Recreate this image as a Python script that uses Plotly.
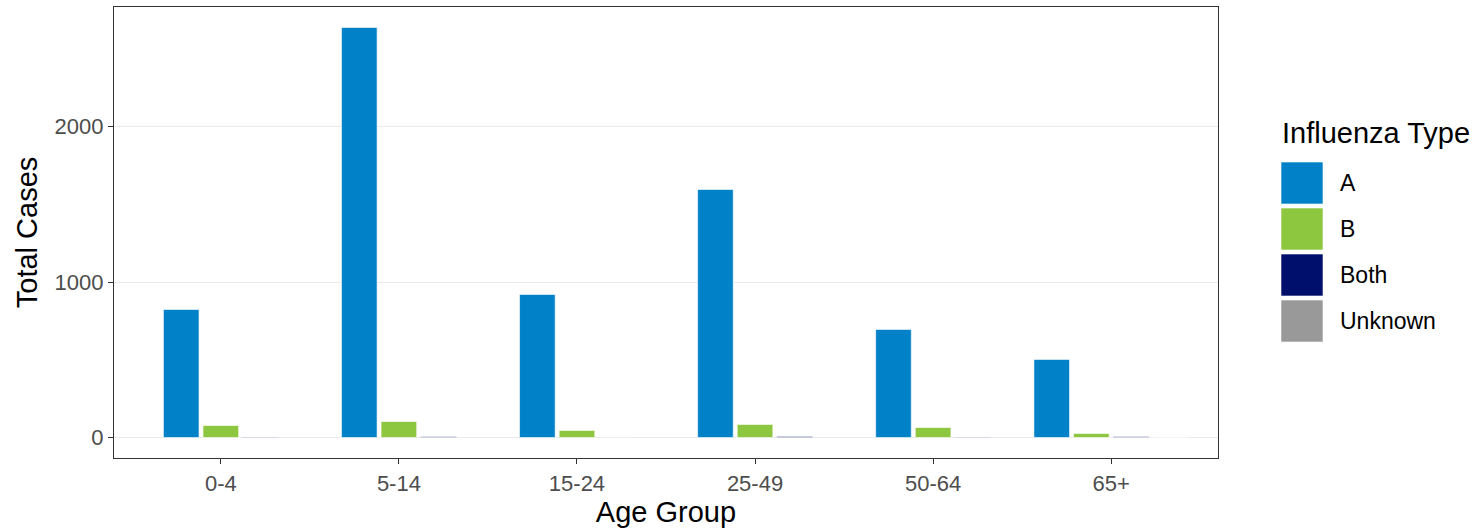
import plotly.graph_objects as go

age_groups = ["0-4", "5-14", "15-24", "25-49", "50-64", "65+"]
series_names = ["A", "B", "Both", "Unknown"]
cases_A = [823, 2637, 920, 1595, 695, 502]
cases_B = [77, 103, 45, 84, 64, 26]
cases_Both = [3, 5, 2, 6, 3, 4]
cases_Unknown = [None, None, None, None, None, 2]
y_ticks = [0, 1000, 2000]

series_values = [cases_A, cases_B, cases_Both, cases_Unknown]
colors = ["#0081C8", "#8DC63F", "#000F6B", "#999999"]

W, H = 1473, 530
L, R, T, B = 114, 255, 7, 72
pw, ph = W - L - R, H - T - B

def px(x):
    return (x - L) / pw

def py(y):
    return (H - B - y) / ph

slot, bw = 0.2225, 0.2
present = [[s for s in range(len(series_values)) if series_values[s][i] is not None]
           for i in range(len(age_groups))]

fig = go.Figure()
for s, (name, vals, col) in enumerate(zip(series_names, series_values, colors)):
    offs = []
    for i in range(len(age_groups)):
        p = present[i]
        if s in p:
            k = p.index(s)
            n = len(p)
            c = -n * slot / 2 + (k + 0.5) * slot
            offs.append(c - bw / 2)
        else:
            offs.append(0)
    fig.add_trace(go.Bar(
        x=age_groups, y=vals, name=name, width=bw, offset=offs,
        marker=dict(color=col, line=dict(color="white", width=0.6)),
        showlegend=False,
    ))

font_family = "Liberation Sans, Arial, sans-serif"
shapes = []
annotations = []
annotations.append(dict(text="Influenza Type", x=px(1280), y=py(133), xref="paper", yref="paper",
                        xanchor="left", yanchor="middle", showarrow=False,
                        font=dict(size=29, color="black", family=font_family)))
for s, (name, col) in enumerate(zip(series_names, colors)):
    top = 162 + s * 46
    shapes.append(dict(type="rect", xref="paper", yref="paper",
                       x0=px(1281), x1=px(1323), y0=py(top + 42), y1=py(top),
                       fillcolor=col, line=dict(color="white", width=0.6), layer="above"))
    annotations.append(dict(text=name, x=px(1338), y=py(top + 21), xref="paper", yref="paper",
                            xanchor="left", yanchor="middle", showarrow=False,
                            font=dict(size=23, color="black", family=font_family)))

fig.update_layout(
    width=W, height=H,
    margin=dict(l=L, r=R, t=T, b=B),
    paper_bgcolor="white", plot_bgcolor="white",
    barmode="overlay",
    font=dict(family=font_family),
    shapes=shapes, annotations=annotations,
    showlegend=False,
)
fig.update_xaxes(
    type="category", range=[-0.6, 5.6],
    showgrid=False, showline=True, mirror=True, linecolor="#333333", linewidth=1.3,
    ticks="outside", ticklen=5, tickwidth=1.3, tickcolor="#333333",
    tickfont=dict(size=22, color="#4D4D4D"),
    title=dict(text="Age Group", font=dict(size=29, color="black"), standoff=4),
)
fig.update_yaxes(
    range=[-132, 2769], tickvals=y_ticks, ticktext=[str(v) for v in y_ticks],
    showgrid=True, gridcolor="#EBEBEB", gridwidth=1.3, zeroline=False,
    showline=True, mirror=True, linecolor="#333333", linewidth=1.3,
    ticks="outside", ticklen=5, tickwidth=1.3, tickcolor="#333333",
    tickfont=dict(size=22, color="#4D4D4D"),
    title=dict(text="Total Cases", font=dict(size=29, color="black"), standoff=8),
)

fig.write_html("out.html", config={"displayModeBar": False},
               post_script="document.body.style.margin='0';")
